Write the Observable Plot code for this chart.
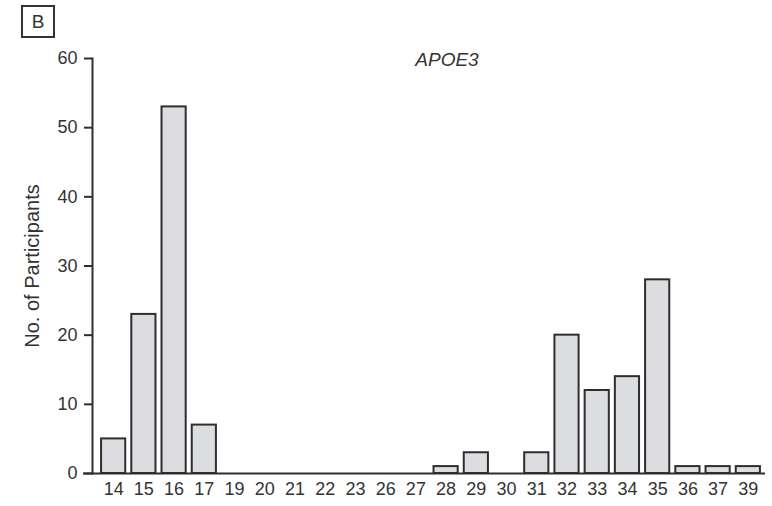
<!DOCTYPE html>
<html>
<head>
<meta charset="utf-8">
<script src="https://cdn.jsdelivr.net/npm/d3@7"></script>
<script src="https://cdn.jsdelivr.net/npm/@observablehq/plot@0.6"></script>
<style>
  html, body { margin: 0; padding: 0; background: #fff; }
  #wrap { position: relative; width: 772px; height: 506px; font-family: "Liberation Sans", Arial, sans-serif; }
  #panel { position: absolute; left: 21px; top: 5px; width: 30px; height: 29px; border: 2px solid #333; color: #333; font-size: 19px; line-height: 30px; text-align: center; }
</style>
</head>
<body>
<div id="wrap"><div id="panel">B</div></div>
<script>
const categories = ["14","15","16","17","19","20","21","22","23","26","27","28","29","30","31","32","33","34","35","36","37","39"];
const counts =     [5, 23, 53, 7, 0, 0, 0, 0, 0, 0, 0, 1, 3, 0, 3, 20, 12, 14, 28, 1, 1, 1];
const yTicks = [0, 10, 20, 30, 40, 50, 60];
const title = "APOE3";
const yLabel = "No. of Participants";

const data = categories.map((c, i) => ({cat: c, n: counts[i]}));
const bars = data.filter(d => d.n > 0);
const FONT = '"Liberation Sans", Arial, sans-serif';

const chart = Plot.plot({
  width: 772,
  height: 506,
  marginLeft: 92,
  marginRight: 3,
  marginTop: 58,
  marginBottom: 33,
  style: {fontFamily: FONT, fontSize: "18px", color: "#333", background: "#fff"},
  x: {type: "band", domain: categories, paddingInner: 0.2, paddingOuter: 0.3, round: false},
  y: {domain: [0, 60]},
  marks: [
    Plot.barY(bars, {x: "cat", y: "n", fill: "#dcdde0", stroke: "#2e2e2e", strokeWidth: 2}),
    Plot.ruleY([0], {stroke: "#2e2e2e", strokeWidth: 2, insetLeft: -9, insetRight: 4}),
    Plot.frame({anchor: "left", stroke: "#2e2e2e", strokeWidth: 2}),
    Plot.axisY({ticks: yTicks, tickSize: 8, tickPadding: 7, tickFormat: d => d, label: null, stroke: "#2e2e2e", strokeWidth: 2, fontSize: 18}),
    Plot.text([yLabel], {frameAnchor: "left", dx: -60, rotate: -90, textAnchor: "middle", lineAnchor: "middle", fontSize: 20, fill: "#333"}),
    Plot.axisX({tickSize: 0, tickPadding: 9, label: null, fontSize: 18}),
    Plot.text([title], {frameAnchor: "top", dx: 16, dy: -6, fontStyle: "italic", fontSize: 19, fill: "#333"})
  ]
});
document.getElementById("wrap").prepend(chart);
</script>
</body>
</html>
